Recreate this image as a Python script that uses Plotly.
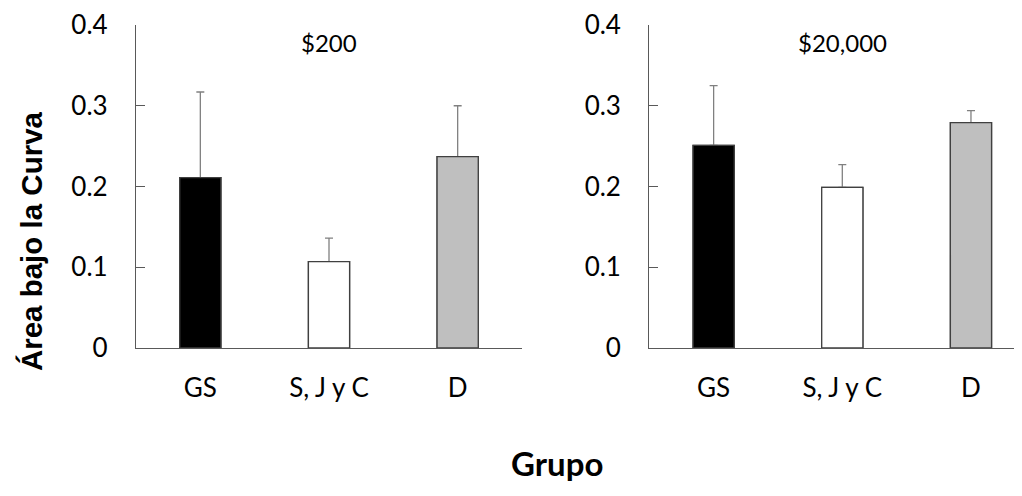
import plotly.graph_objects as go

categories = ["GS", "S, J y C", "D"]
panel_titles = ["$200", "$20,000"]
values_200 = [0.211, 0.107, 0.237]
errors_200 = [0.106, 0.029, 0.063]
values_20000 = [0.251, 0.199, 0.279]
errors_20000 = [0.074, 0.028, 0.015]
bar_colors = ["#000000", "#FFFFFF", "#BFBFBF"]
y_ticks = [0, 0.1, 0.2, 0.3, 0.4]
y_ticktext = ["0", "0.1", "0.2", "0.3", "0.4"]
y_title = "Área bajo la Curva"
x_title = "Grupo"

# The page body has an 8px margin, so the figure is drawn 8px smaller and
# all reference pixel positions are shifted by that offset.
OFF = 8
W, H = 1022 - OFF, 496 - OFF
L = 136 - OFF
T = 25.3 - OFF
B = H - (347.7 - OFF)
PW, PH = W - L, H - T - B

def px_x(x):
    return (x - OFF - L) / PW

def px_y(y):
    return 1 - (y - OFF - T) / PH

TICK_FONT = dict(family="Lato, Open Sans, sans-serif", size=26, color="#000000")
TITLE_FONT = dict(family="Lato, Open Sans, sans-serif", size=24, color="#000000")
AXIS_COLOR = "#595959"

fig = go.Figure()

for i, (vals, errs) in enumerate([(values_200, errors_200), (values_20000, errors_20000)]):
    sfx = "" if i == 0 else "2"
    common = dict(x=categories, y=vals, width=0.32,
                  marker=dict(color=bar_colors, line=dict(color="#404040", width=1.3)),
                  xaxis="x" + sfx, yaxis="y" + sfx, showlegend=False, hoverinfo="skip")
    fig.add_trace(go.Bar(
        error_y=dict(type="data", symmetric=False, array=errs,
                     arrayminus=[0] * len(errs), color="#808080",
                     thickness=1.3, width=4),
        **common))
    fig.add_trace(go.Bar(**common))

band = (522 - 136) / 3.0
xdom1 = [px_x(136), px_x(522)]
xdom2 = [px_x(649.3), 1.0]
x2_end = -0.5 + (1022 - 649.3) / band

xcommon = dict(type="category", showline=True, linecolor=AXIS_COLOR, linewidth=1.3,
               ticks="", showgrid=False, zeroline=False, tickfont=TICK_FONT,
               ticklabelstandoff=17, automargin=False, fixedrange=True)
ycommon = dict(range=[0, 0.4], showline=True, linecolor=AXIS_COLOR, linewidth=1.3,
               ticks="inside", ticklen=9, tickcolor=AXIS_COLOR, tickwidth=1.3,
               tickvals=y_ticks, ticktext=y_ticktext, showgrid=False, zeroline=False,
               tickfont=TICK_FONT, ticklabelstandoff=22, automargin=False,
               domain=[0, 1], fixedrange=True)

fig.update_layout(
    width=W, height=H,
    margin=dict(l=L, r=0, t=T, b=B, pad=0, autoexpand=False),
    paper_bgcolor="white", plot_bgcolor="white",
    barmode="overlay",
    xaxis=dict(domain=xdom1, range=[-0.5, 2.5], anchor="y", **xcommon),
    yaxis=dict(anchor="x", **ycommon),
    xaxis2=dict(domain=xdom2, range=[-0.5, x2_end], anchor="y2", **xcommon),
    yaxis2=dict(anchor="x2", **ycommon),
    annotations=[
        dict(text=panel_titles[0], x=1, y=px_y(43), xref="x", yref="paper",
             xanchor="center", yanchor="middle", showarrow=False, font=TITLE_FONT),
        dict(text=panel_titles[1], x=1, y=px_y(43), xref="x2", yref="paper",
             xanchor="center", yanchor="middle", showarrow=False, font=TITLE_FONT),
        dict(text="<b>" + y_title + "</b>", x=px_x(31), y=px_y(241),
             xref="paper", yref="paper", xanchor="center", yanchor="middle",
             showarrow=False, textangle=-90,
             font=dict(family="Liberation Sans, Arial, sans-serif", size=29.5, color="#000000")),
        dict(text="<b>" + x_title + "</b>", x=px_x(557), y=px_y(462),
             xref="paper", yref="paper", xanchor="center", yanchor="middle",
             showarrow=False,
             font=dict(family="Lato, Open Sans, sans-serif", size=33, color="#000000")),
    ],
)

fig.write_html("out.html")
